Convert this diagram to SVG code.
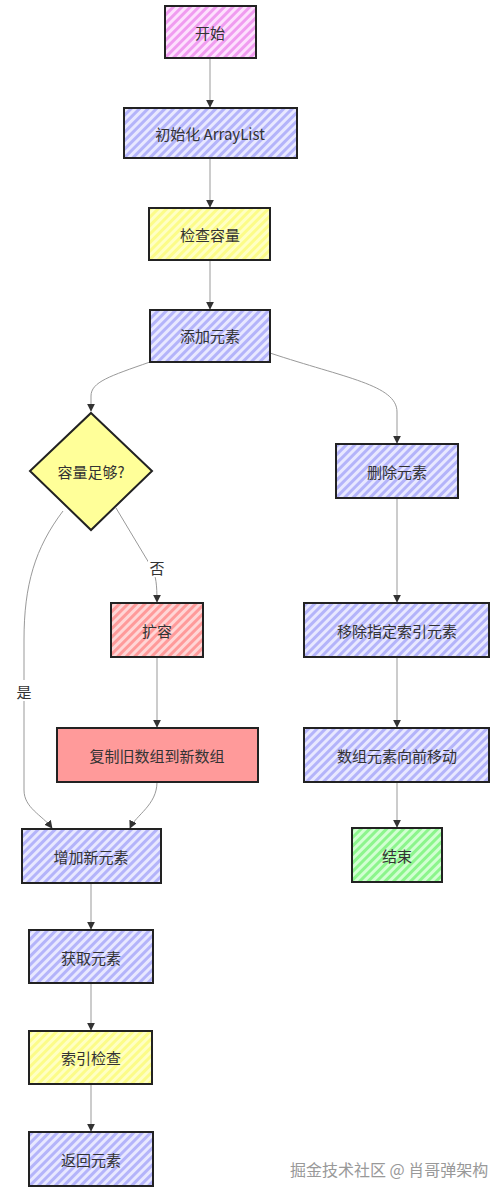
<svg xmlns="http://www.w3.org/2000/svg" width="502" height="1197" viewBox="0 0 502 1197">
<style>
.node{stroke:#222;stroke-width:2;}
.lbl{font-family:"Noto Sans CJK SC","Noto Sans",sans-serif;font-size:15px;fill:#333;text-anchor:middle;dominant-baseline:central;}
.edge{fill:none;stroke:#999;stroke-width:1;}
.elbl{font-family:"Noto Sans CJK SC","Noto Sans",sans-serif;font-size:15px;fill:#333;text-anchor:middle;dominant-baseline:central;}
.wm{font-family:"Noto Sans CJK SC","Noto Sans",sans-serif;font-size:16px;fill:#999;}
</style>
<defs>
<pattern id="hPink" width="6" height="6" patternUnits="userSpaceOnUse" patternTransform="rotate(-45)">
<rect width="6" height="6" fill="#fde0fd"/><rect width="6" height="3" fill="#f09cf0"/></pattern>
<pattern id="hBlue" width="6" height="6" patternUnits="userSpaceOnUse" patternTransform="rotate(-45)">
<rect width="6" height="6" fill="#e8e8ff"/><rect width="6" height="3" fill="#b4b4fa"/></pattern>
<pattern id="hYellow" width="6" height="6" patternUnits="userSpaceOnUse" patternTransform="rotate(-45)">
<rect width="6" height="6" fill="#ffffc4"/><rect width="6" height="3" fill="#fcfc88"/></pattern>
<pattern id="hRed" width="6" height="6" patternUnits="userSpaceOnUse" patternTransform="rotate(-45)">
<rect width="6" height="6" fill="#ffd6d6"/><rect width="6" height="3" fill="#ff9a9a"/></pattern>
<pattern id="hGreen" width="6" height="6" patternUnits="userSpaceOnUse" patternTransform="rotate(-45)">
<rect width="6" height="6" fill="#d2ffd2"/><rect width="6" height="3" fill="#8cf58c"/></pattern>
<marker id="arr" viewBox="0 0 10 10" refX="9" refY="5" markerWidth="8" markerHeight="8" orient="auto" markerUnits="userSpaceOnUse">
<path d="M0,0 L10,5 L0,10 z" fill="#333"/></marker>
</defs>

<g id="connectors">
<path class="edge" d="M210,58 L210,107" marker-end="url(#arr)"/>
<path class="edge" d="M210,158 L210,207" marker-end="url(#arr)"/>
<path class="edge" d="M210,260 L210,309" marker-end="url(#arr)"/>
<path class="edge" d="M150,362 C110,376 91,382 91,396 L91,411" marker-end="url(#arr)"/>
<path class="edge" d="M270,353 C345,378 397,385 397,412 L397,443" marker-end="url(#arr)"/>
<path class="edge" d="M116,508 L152,568 C156,576 157,585 157,602" marker-end="url(#arr)"/>
<path class="edge" d="M63,511 C35,548 24,585 24,640 L24,790 C24,808 42,815 52,828" marker-end="url(#arr)"/>
<path class="edge" d="M157,657 L157,727" marker-end="url(#arr)"/>
<path class="edge" d="M157,782 C157,805 136,815 130,828" marker-end="url(#arr)"/>
<path class="edge" d="M397,498 L397,602" marker-end="url(#arr)"/>
<path class="edge" d="M397,657 L397,727" marker-end="url(#arr)"/>
<path class="edge" d="M397,782 L397,827" marker-end="url(#arr)"/>
<path class="edge" d="M91,883 L91,929" marker-end="url(#arr)"/>
<path class="edge" d="M91,983 L91,1030" marker-end="url(#arr)"/>
<path class="edge" d="M91,1084 L91,1131" marker-end="url(#arr)"/>
<rect x="148" y="557" width="18" height="20" fill="#fff"/>
<text class="elbl" x="157" y="567">否</text>
<rect x="15" y="680" width="18" height="21" fill="#fff"/>
<text class="elbl" x="24" y="691">是</text>
</g>

<g id="n-start"><rect class="node" x="165" y="6" width="91" height="52" fill="url(#hPink)"/><text class="lbl" x="210" y="32">开始</text></g>
<g id="n-init"><rect class="node" x="124" y="108" width="173" height="50" fill="url(#hBlue)"/><text class="lbl" x="210" y="133">初始化 ArrayList</text></g>
<g id="n-check"><rect class="node" x="149" y="208" width="121" height="52" fill="url(#hYellow)"/><text class="lbl" x="210" y="234">检查容量</text></g>
<g id="n-add"><rect class="node" x="150" y="310" width="120" height="52" fill="url(#hBlue)"/><text class="lbl" x="210" y="335">添加元素</text></g>
<g id="n-cap"><polygon class="node" points="91,413 152,471 91,530 30,471" fill="#ffff99"/><text class="lbl" x="91" y="471">容量足够?</text></g>
<g id="n-del"><rect class="node" x="336" y="444" width="122" height="54" fill="url(#hBlue)"/><text class="lbl" x="397" y="471">删除元素</text></g>
<g id="n-grow"><rect class="node" x="111" y="603" width="92" height="54" fill="url(#hRed)"/><text class="lbl" x="157" y="630">扩容</text></g>
<g id="n-copy"><rect class="node" x="57" y="728" width="201" height="54" fill="#ff9a9a"/><text class="lbl" x="157" y="755">复制旧数组到新数组</text></g>
<g id="n-remove"><rect class="node" x="304" y="603" width="185" height="54" fill="url(#hBlue)"/><text class="lbl" x="397" y="630">移除指定索引元素</text></g>
<g id="n-shift"><rect class="node" x="304" y="728" width="185" height="54" fill="url(#hBlue)"/><text class="lbl" x="397" y="755">数组元素向前移动</text></g>
<g id="n-end"><rect class="node" x="352" y="828" width="90" height="54" fill="url(#hGreen)"/><text class="lbl" x="397" y="855">结束</text></g>
<g id="n-new"><rect class="node" x="22" y="829" width="139" height="54" fill="url(#hBlue)"/><text class="lbl" x="91" y="856">增加新元素</text></g>
<g id="n-get"><rect class="node" x="29" y="930" width="124" height="53" fill="url(#hBlue)"/><text class="lbl" x="91" y="957">获取元素</text></g>
<g id="n-idx"><rect class="node" x="29" y="1031" width="123" height="53" fill="url(#hYellow)"/><text class="lbl" x="91" y="1057">索引检查</text></g>
<g id="n-ret"><rect class="node" x="29" y="1132" width="124" height="54" fill="url(#hBlue)"/><text class="lbl" x="91" y="1159">返回元素</text></g>

<text class="wm" x="290" y="1176">掘金技术社区 @ 肖哥弹架构</text>
</svg>
